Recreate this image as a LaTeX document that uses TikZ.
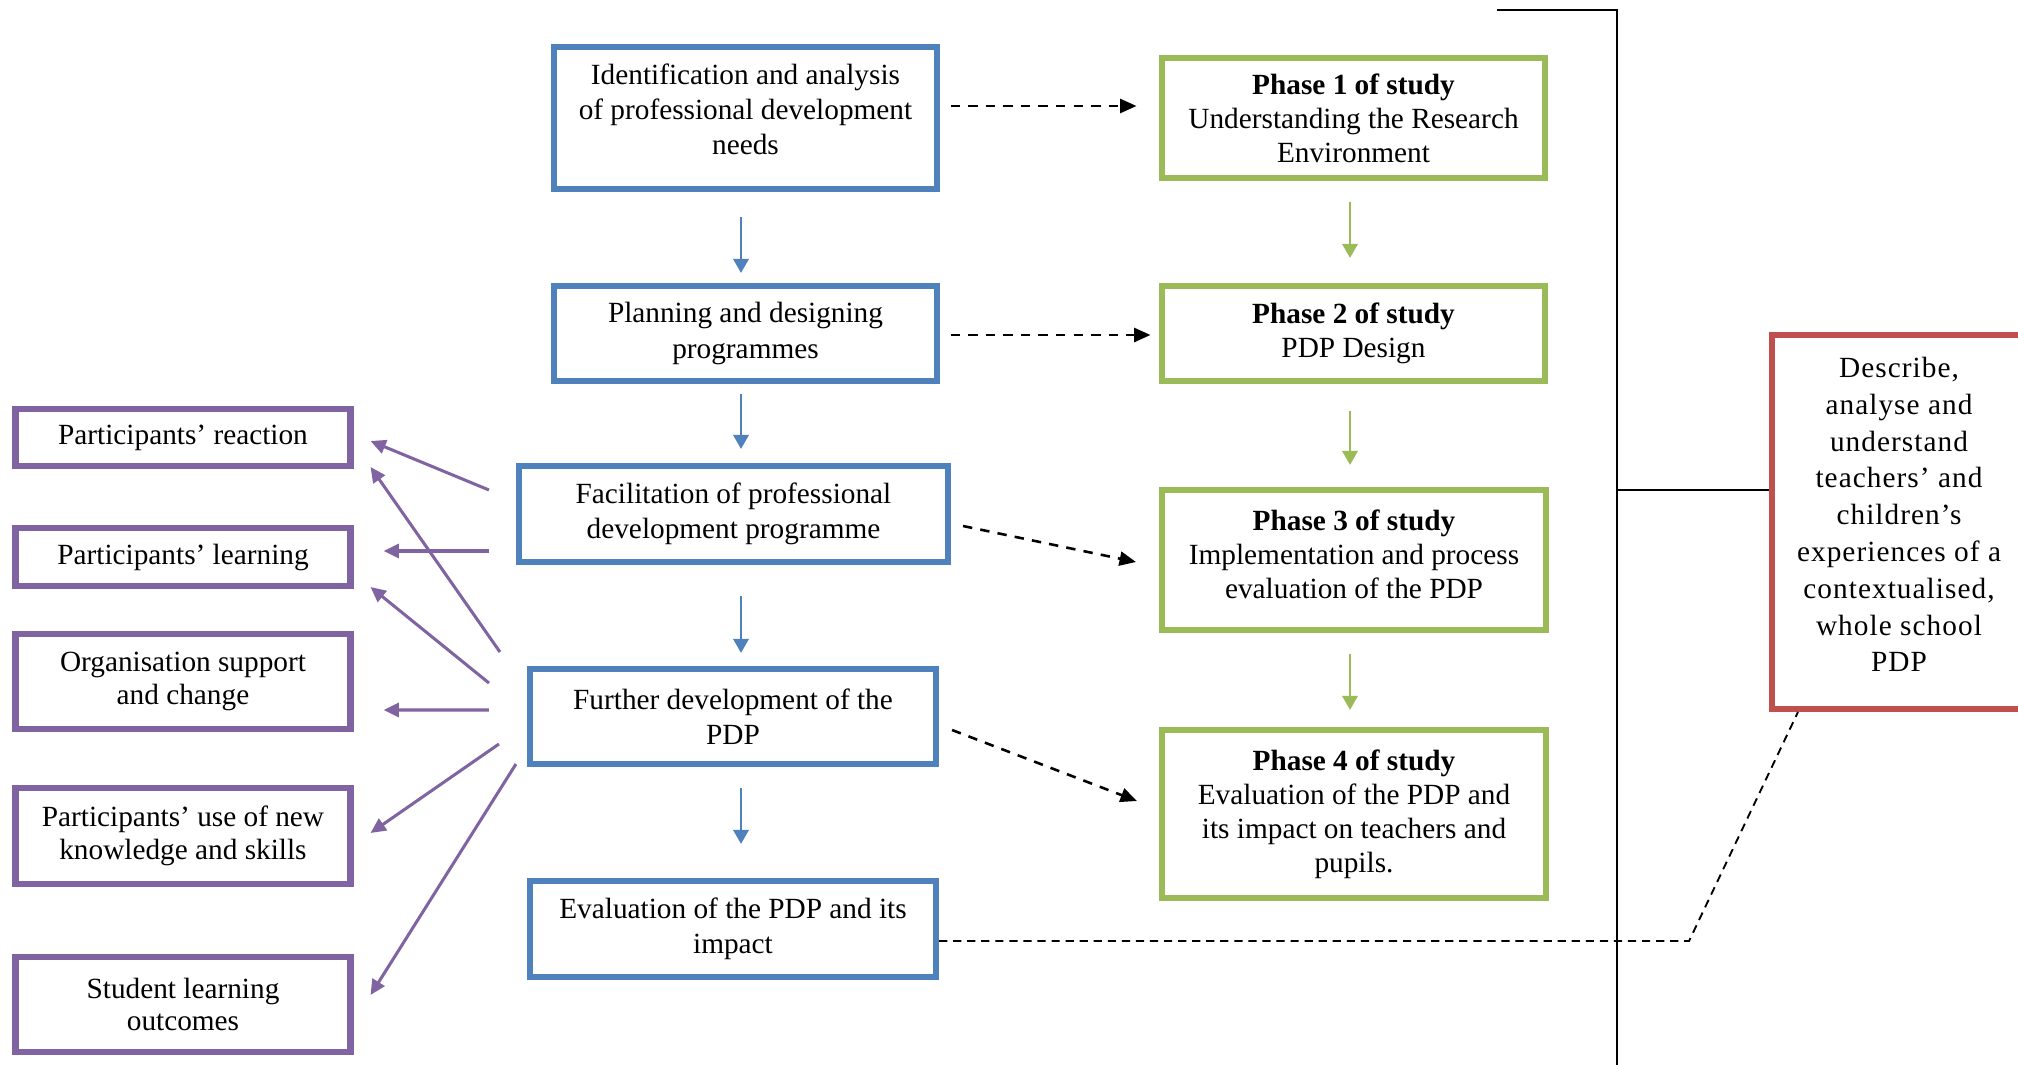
\documentclass[tikz,border=0pt]{standalone}
\usepackage{fontspec}
\setmainfont{Liberation Serif}
\newfontfamily\redfont[LetterSpace=3.6]{Liberation Serif}
\usetikzlibrary{arrows.meta}
\usetikzlibrary{calc}
\newdimen\pxu \pxu=0.015cm
\newcommand{\txtlift}[1]{\rule[-#1]{0pt}{#1}}
\definecolor{pdpblue}{HTML}{4F81BD}
\definecolor{pdpgreen}{HTML}{9BBB59}
\definecolor{pdppurple}{HTML}{8064A2}
\definecolor{pdpred}{HTML}{C0504D}
\tikzset{box/.style={draw,line width=2.6pt,align=center,inner sep=2pt,
        font=\fontsize{12.5}{15}\selectfont},
    boxsize/.style 2 args={minimum width=#1\pxu,minimum height=#2\pxu},
    bluebox/.style={box,draw=pdpblue},
    greenbox/.style={box,draw=pdpgreen,font=\fontsize{12.5}{14.5}\selectfont},
    purplebox/.style={box,draw=pdppurple,font=\fontsize{12.5}{14}\selectfont},
    redbox/.style={box,draw=pdpred,font=\redfont\fontsize{12.5}{15.7}\selectfont},
    bluearr/.style={draw=pdpblue,line width=1.2pt,-{Triangle[length=6pt,width=6.5pt]},fill=pdpblue},
    greenarr/.style={draw=pdpgreen,line width=1.2pt,-{Triangle[length=6pt,width=6.5pt]},fill=pdpgreen},
    purparr/.style={draw=pdppurple,line width=1.3pt,-{Triangle[length=6.5pt,width=6pt]},fill=pdppurple},
    dasharr/.style={line width=1.1pt,dash pattern=on 4pt off 3.5pt,-{Triangle[length=7pt,width=6pt]}},
    longdash/.style={line width=0.8pt,dash pattern=on 3.5pt off 2.5pt}}
\begin{document}
\begin{tikzpicture}[x=0.015cm,y=-0.015cm]
\useasboundingbox (0,0) rectangle (2018,1064);
\coordinate (bluecol) at (741,0);
\coordinate (greencol) at (1350,0);

\node[bluebox,boxsize={383}{142}] (b1) at (745.5,118) {Identification and analysis\\of professional development\\needs\txtlift{7.7pt}};
\node[bluebox,boxsize={383}{95}] (b2) at (745.5,333.5) {Planning and designing\\programmes};
\node[bluebox,boxsize={429}{96}] (b3) at (733.5,514) {Facilitation of professional\\development programme};
\node[bluebox,boxsize={406}{95}] (b4) at (733,716.5) {Further development of the\\PDP};
\node[bluebox,boxsize={406}{96}] (b5) at (733,929) {Evaluation of the PDP and its\\impact};

\node[greenbox,boxsize={383}{120}] (g1) at (1353.5,118) {\textbf{Phase 1 of study}\\Understanding the Research\\Environment};
\node[greenbox,boxsize={383}{95}] (g2) at (1353.5,333.5) {\textbf{Phase 2 of study}\\PDP Design};
\node[greenbox,boxsize={384}{140}] (g3) at (1354,560) {\textbf{Phase 3 of study}\\Implementation and process\\evaluation of the PDP\txtlift{5.1pt}};
\node[greenbox,boxsize={384}{168}] (g4) at (1354,814) {\textbf{Phase 4 of study}\\Evaluation of the PDP and\\its impact on teachers and\\pupils.};

\node[purplebox,boxsize={335}{57}] (p1) at (183,437.5) {Participants’ reaction};
\node[purplebox,boxsize={335}{58}] (p2) at (183,557) {Participants’ learning};
\node[purplebox,boxsize={335}{95}] (p3) at (183,681.5) {Organisation support\\and change};
\node[purplebox,boxsize={335}{96}] (p4) at (183,836) {Participants’ use of new\\knowledge and skills};
\node[purplebox,boxsize={335}{95}] (p5) at (183,1004.5) {Student learning\\outcomes};

\node[redbox,boxsize={254}{374}] (red) at (1899,522) {Describe,\\analyse and\\understand\\teachers’ and\\children’s\\experiences of a\\contextualised,\\whole school\\PDP\txtlift{6.4pt}};

\draw[bluearr,shorten <=25\pxu,shorten >=10\pxu] (b1.south -| bluecol) -- (b2.north -| bluecol);
\draw[bluearr,shorten <=10\pxu,shorten >=14\pxu] (b2.south -| bluecol) -- (b3.north -| bluecol);
\draw[bluearr,shorten <=31\pxu,shorten >=13\pxu] (b3.south -| bluecol) -- (b4.north -| bluecol);
\draw[bluearr,shorten <=21\pxu,shorten >=34\pxu] (b4.south -| bluecol) -- (b5.north -| bluecol);

\draw[greenarr,shorten <=21\pxu,shorten >=25\pxu] (g1.south -| greencol) -- (g2.north -| greencol);
\draw[greenarr,shorten <=27\pxu,shorten >=22\pxu] (g2.south -| greencol) -- (g3.north -| greencol);
\draw[greenarr,shorten <=21\pxu,shorten >=17\pxu] (g3.south -| greencol) -- (g4.north -| greencol);

\draw[dasharr] ($(b1.east)+(10.5,-12)$) -- ($(g1.west)+(-22.5,-12)$);
\draw[dasharr] ($(b2.east)+(10.5,1.5)$) -- ($(g2.west)+(-8.5,1.5)$);
\draw[dasharr] ($(b3.east)+(12,12)$) -- ($(g3.west)+(-23,2)$);
\draw[dasharr] ($(b4.east)+(13,13.5)$) -- ($(g4.west)+(-22,-13)$);

\draw[purparr] ($(b3.west)+(-27,-24)$) -- ($(p1.east)+(17,3.5)$);
\draw[purparr] ($(b3.west)+(-27,37)$) -- ($(p2.east)+(30,-6)$);
\draw[purparr] ($(b4.west)+(-27,-64.5)$) -- ($(p1.east)+(17,29.5)$);
\draw[purparr] ($(b4.west)+(-38,-33.5)$) -- ($(p2.east)+(17,30)$);
\draw[purparr] ($(b4.west)+(-38,-6.5)$) -- ($(p3.east)+(30,28.5)$);
\draw[purparr] ($(b4.west)+(-28,27.5)$) -- ($(p4.east)+(17,-3)$);
\draw[purparr] ($(b4.west)+(-11,47.5)$) -- ($(p5.east)+(17,-9.5)$);

\draw[line width=0.9pt] (1497,10) -- (1617,10) -- (1617,1070);
\coordinate (barjoin) at (1617,490);
\draw[line width=0.6pt] (barjoin) -- (barjoin -| red.west);
\draw[longdash] ($(b5.east)+(0,12)$) -- ++(750,0) -- ($(red.south west)+(29,0)$);
\end{tikzpicture}
\end{document}
